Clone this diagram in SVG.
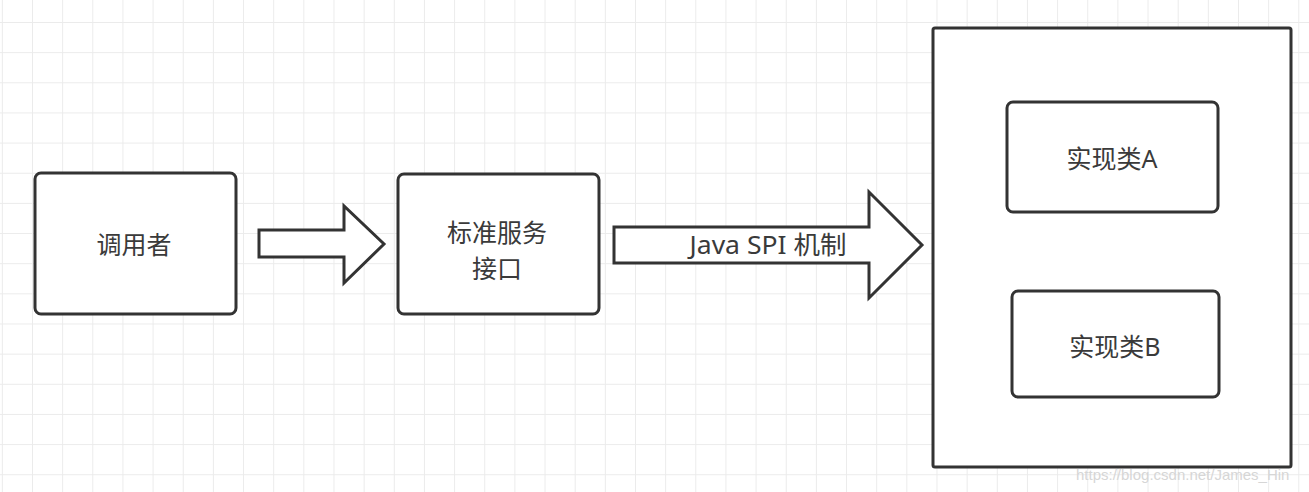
<svg xmlns="http://www.w3.org/2000/svg" width="1309" height="492" viewBox="0 0 1309 492">
<defs>
<pattern id="grid" x="32" y="22" width="30.15" height="30.15" patternUnits="userSpaceOnUse">
<path d="M0 0 V30.15 M0 0 H30.15" stroke="#ebebeb" stroke-width="2" fill="none"/>
</pattern>
<style>
.box{fill:#fff;stroke:#333;stroke-width:3}
.arrow{fill:#fff;stroke:#333;stroke-width:3;stroke-linejoin:miter}
.t{font-family:"Noto Sans","Noto Sans CJK SC",sans-serif;font-size:25px;fill:#3a3a3a;text-anchor:middle;dominant-baseline:central}
.wm{font-family:"Liberation Sans",sans-serif;font-size:15px;fill:#d6d6d6}
</style>
</defs>
<rect width="1309" height="492" fill="#fff"/>
<rect width="1309" height="492" fill="url(#grid)"/>
<g id="connectors">
<polygon class="arrow" points="259,230 344,230 344,206 384,244 344,283 344,257 259,257"/>
<polygon class="arrow" points="614,227 869,227 869,192 922,245 869,298 869,263 614,263"/>
<text class="t" x="768" y="244" textLength="157" lengthAdjust="spacingAndGlyphs">Java SPI 机制</text>
</g>
<g id="caller">
<rect class="box" x="35" y="173" width="201" height="141" rx="6"/>
<text class="t" x="134" y="244">调用者</text>
</g>
<g id="interface">
<rect class="box" x="398" y="174" width="201" height="140" rx="6"/>
<text class="t" x="497" y="232">标准服务</text>
<text class="t" x="497" y="268">接口</text>
</g>
<g id="container">
<rect class="box" x="933" y="28" width="358" height="439" rx="2"/>
</g>
<g id="implA">
<rect class="box" x="1007" y="102" width="211" height="110" rx="6"/>
<text class="t" x="1112" y="158">实现类A</text>
</g>
<g id="implB">
<rect class="box" x="1012" y="291" width="207" height="106" rx="6"/>
<text class="t" x="1115" y="346">实现类B</text>
</g>
<text class="wm" x="1076" y="480">https://blog.csdn.net/James_Hin</text>
</svg>
